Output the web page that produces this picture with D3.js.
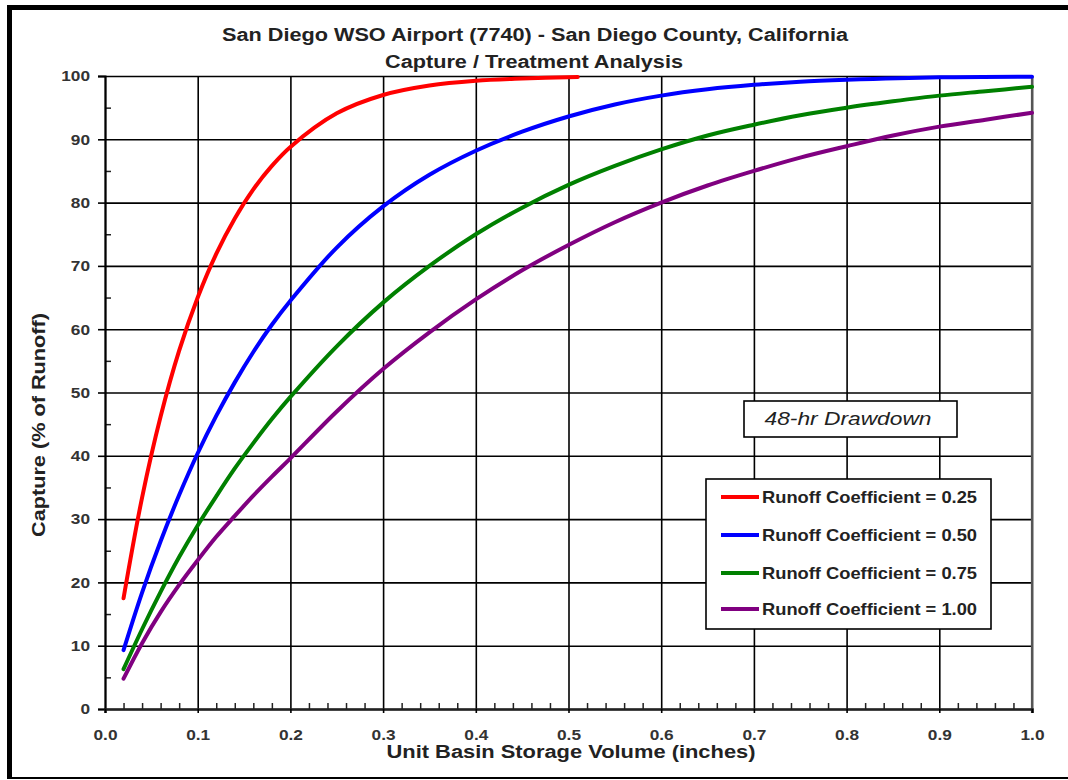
<!DOCTYPE html>
<html>
<head>
<meta charset="utf-8">
<script src="https://cdn.jsdelivr.net/npm/d3@7/dist/d3.min.js"></script>
<style>
  html, body { margin: 0; padding: 0; background: #fff; }
  svg { display: block; }
  text { font-family: "Liberation Sans", Arial, sans-serif; }
</style>
</head>
<body>
<svg id="chart" width="1068" height="780"></svg>
<script>
// ---------------- DATA ----------------
const titleLines = ["San Diego WSO Airport (7740) - San Diego County, California", "Capture / Treatment Analysis"];
const xAxisTitle = "Unit Basin Storage Volume (inches)";
const yAxisTitle = "Capture (% of Runoff)";
const noteText = "48-hr Drawdown";
const xTicks = [0, 0.1, 0.2, 0.3, 0.4, 0.5, 0.6, 0.7, 0.8, 0.9, 1.0];
const yTicks = [0, 10, 20, 30, 40, 50, 60, 70, 80, 90, 100];
const seriesNames = ["Runoff Coefficient = 0.25", "Runoff Coefficient = 0.50", "Runoff Coefficient = 0.75", "Runoff Coefficient = 1.00"];

const xRed    = [0.02, 0.04, 0.06, 0.08, 0.10, 0.12, 0.14, 0.16, 0.18, 0.20, 0.25, 0.30, 0.35, 0.40, 0.45, 0.51];
const yRed    = [17.5, 33.4, 46.2, 56.6, 65.0, 71.9, 77.5, 82.1, 85.8, 88.8, 94.1, 97.0, 98.5, 99.25, 99.6, 99.85];

const xBlue   = [0.02, 0.04, 0.06, 0.08, 0.10, 0.12, 0.14, 0.16, 0.18, 0.20, 0.25, 0.30, 0.35, 0.40, 0.45, 0.50, 0.55, 0.60, 0.65, 0.70, 0.75, 0.80, 0.90, 1.00];
const yBlue   = [9.3, 18.4, 26.5, 33.8, 40.4, 46.3, 51.6, 56.4, 60.7, 64.5, 72.9, 79.4, 84.4, 88.2, 91.2, 93.6, 95.5, 96.9, 97.9, 98.6, 99.1, 99.4, 99.8, 99.9];

const xGreen  = [0.02, 0.04, 0.06, 0.08, 0.10, 0.12, 0.14, 0.16, 0.18, 0.20, 0.25, 0.30, 0.35, 0.40, 0.45, 0.50, 0.55, 0.60, 0.65, 0.70, 0.75, 0.80, 0.85, 0.90, 0.95, 1.00];
const yGreen  = [6.3, 12.6, 18.5, 24.0, 29.0, 33.6, 38.0, 42.0, 45.8, 49.3, 57.3, 64.2, 70.0, 75.0, 79.2, 82.8, 85.8, 88.4, 90.6, 92.3, 93.8, 95.0, 96.0, 96.9, 97.6, 98.3];

const xPurple = [0.02, 0.04, 0.06, 0.08, 0.10, 0.12, 0.14, 0.16, 0.18, 0.20, 0.25, 0.30, 0.35, 0.40, 0.45, 0.50, 0.55, 0.60, 0.65, 0.70, 0.75, 0.80, 0.85, 0.90, 0.95, 1.00];
const yPurple = [4.8, 10.4, 15.3, 19.6, 23.5, 27.2, 30.5, 33.7, 36.7, 39.6, 47.0, 53.7, 59.5, 64.7, 69.3, 73.3, 76.9, 80.0, 82.7, 85.0, 87.1, 88.9, 90.6, 92.0, 93.1, 94.2];

const seriesColors = ["#ff0000", "#0000ff", "#008000", "#800080"];
const seriesX = [xRed, xBlue, xGreen, xPurple];
const seriesY = [yRed, yBlue, yGreen, yPurple];

// ---------------- LAYOUT ----------------
const svg = d3.select("#chart");
const L = 105, R = 1032, T = 76, B = 709;
const x = d3.scaleLinear().domain([0, 1]).range([L, R]);
const y = d3.scaleLinear().domain([0, 100]).range([B, T]);
const FONT = "'Liberation Sans', Arial, sans-serif";

// widen glyphs horizontally (reference font is wider than Arial)
function stretch(sel, factor) {
  sel.each(function () {
    const w = this.getComputedTextLength();
    d3.select(this).attr("textLength", w * factor).attr("lengthAdjust", "spacingAndGlyphs");
  });
}

// outer frame
svg.append("rect").attr("x", 0).attr("y", 0).attr("width", 1068).attr("height", 780).attr("fill", "#fff");
svg.append("rect").attr("x", 7).attr("y", 5).attr("width", 1061).attr("height", 5).attr("fill", "#000");
svg.append("rect").attr("x", 7).attr("y", 5).attr("width", 5).attr("height", 774).attr("fill", "#000");
svg.append("rect").attr("x", 7).attr("y", 777).attr("width", 1061).attr("height", 2).attr("fill", "#000");

// minor ticks
const xMinor = d3.range(0, 1.0001, 0.02).filter(v => Math.abs(v * 10 - Math.round(v * 10)) > 1e-6);
const yMinor = d3.range(5, 100, 10);
svg.append("g").attr("transform", `translate(0,${B})`)
  .call(d3.axisBottom(x).tickValues(xMinor).tickSize(-6).tickFormat(""))
  .call(g => g.select(".domain").remove())
  .call(g => g.selectAll("line").attr("stroke", "#222").attr("stroke-width", 1.5));
svg.append("g").attr("transform", `translate(${L},0)`)
  .call(d3.axisLeft(y).tickValues(yMinor).tickSize(-6).tickFormat(""))
  .call(g => g.select(".domain").remove())
  .call(g => g.selectAll("line").attr("stroke", "#222").attr("stroke-width", 1.5));

// gridlines
svg.append("g").attr("transform", `translate(0,${B})`)
  .call(d3.axisBottom(x).tickValues(xTicks).tickSize(-(B - T)).tickFormat(""))
  .call(g => g.select(".domain").remove())
  .call(g => g.selectAll("line").attr("stroke", "#000").attr("stroke-width", 1.6));
svg.append("g").attr("transform", `translate(${L},0)`)
  .call(d3.axisLeft(y).tickValues(yTicks).tickSize(-(R - L)).tickFormat(""))
  .call(g => g.select(".domain").remove())
  .call(g => g.selectAll("line").attr("stroke", "#000").attr("stroke-width", 1.6));

// right border (grey)
svg.append("line").attr("x1", x(1)).attr("x2", x(1)).attr("y1", T).attr("y2", B + 4)
  .attr("stroke", "#555").attr("stroke-width", 2.2);

// curves
const line = d3.line().x(d => x(d[0])).y(d => y(d[1])).curve(d3.curveCatmullRom.alpha(0.5));
seriesX.forEach((xs, i) => {
  const pts = xs.map((v, j) => [v, seriesY[i][j]]);
  svg.append("path").datum(pts).attr("d", line)
    .attr("fill", "none").attr("stroke", seriesColors[i]).attr("stroke-width", 4)
    .attr("stroke-linecap", "round").attr("stroke-linejoin", "round");
});

// axes with labels
const yAxis = svg.append("g").attr("transform", `translate(${L},0)`)
  .call(d3.axisLeft(y).tickValues(yTicks).tickSize(7).tickPadding(8).tickFormat(d3.format("d")));
yAxis.select(".domain").attr("stroke", "#000").attr("stroke-width", 2);
yAxis.selectAll("line").attr("stroke", "#000").attr("stroke-width", 1.6);
yAxis.selectAll("text").attr("font-size", 15).attr("font-weight", "bold").attr("fill", "#333")
  .attr("font-family", FONT).call(stretch, 1.15);

const xAxis = svg.append("g").attr("transform", `translate(0,${B})`)
  .call(d3.axisBottom(x).tickValues(xTicks).tickSize(4).tickPadding(16).tickFormat(d3.format(".1f")));
xAxis.select(".domain").attr("stroke", "#222").attr("stroke-width", 2.6);
xAxis.selectAll("line").attr("stroke", "#000").attr("stroke-width", 1.6);
xAxis.selectAll("text").attr("font-size", 15).attr("font-weight", "bold").attr("fill", "#333")
  .attr("font-family", FONT).call(stretch, 1.15);

// titles
svg.append("text").attr("x", 535).attr("y", 41).attr("text-anchor", "middle")
  .attr("font-size", 18).attr("font-weight", "bold").attr("fill", "#222").text(titleLines[0])
  .attr("textLength", 626).attr("lengthAdjust", "spacingAndGlyphs");
svg.append("text").attr("x", 534).attr("y", 68).attr("text-anchor", "middle")
  .attr("font-size", 18).attr("font-weight", "bold").attr("fill", "#222").text(titleLines[1])
  .attr("textLength", 298).attr("lengthAdjust", "spacingAndGlyphs");

svg.append("text").attr("x", 571).attr("y", 758).attr("text-anchor", "middle")
  .attr("font-size", 17.5).attr("font-weight", "bold").attr("fill", "#222").text(xAxisTitle)
  .attr("textLength", 369).attr("lengthAdjust", "spacingAndGlyphs");
svg.append("text").attr("transform", "translate(45,425) rotate(-90)").attr("text-anchor", "middle")
  .attr("font-size", 18).attr("font-weight", "bold").attr("fill", "#222").text(yAxisTitle)
  .attr("textLength", 224).attr("lengthAdjust", "spacingAndGlyphs");

// drawdown box
svg.append("rect").attr("x", 744).attr("y", 401).attr("width", 213).attr("height", 36)
  .attr("fill", "#fff").attr("stroke", "#000").attr("stroke-width", 1.6);
svg.append("text").attr("x", 848).attr("y", 425).attr("text-anchor", "middle")
  .attr("font-size", 18).attr("font-style", "italic").attr("fill", "#222").text(noteText)
  .attr("textLength", 167).attr("lengthAdjust", "spacingAndGlyphs");

// legend
svg.append("rect").attr("x", 706).attr("y", 479).attr("width", 285).attr("height", 150)
  .attr("fill", "#fff").attr("stroke", "#000").attr("stroke-width", 1.6);
const legendY = [497, 535, 573, 609];
seriesNames.forEach((name, i) => {
  svg.append("line").attr("x1", 721).attr("x2", 759).attr("y1", legendY[i]).attr("y2", legendY[i])
    .attr("stroke", seriesColors[i]).attr("stroke-width", 4);
  svg.append("text").attr("x", 762).attr("y", legendY[i] + 6)
    .attr("font-size", 16.5).attr("font-weight", "bold").attr("fill", "#222").text(name)
    .attr("textLength", 215).attr("lengthAdjust", "spacingAndGlyphs");
});
</script>
</body>
</html>
